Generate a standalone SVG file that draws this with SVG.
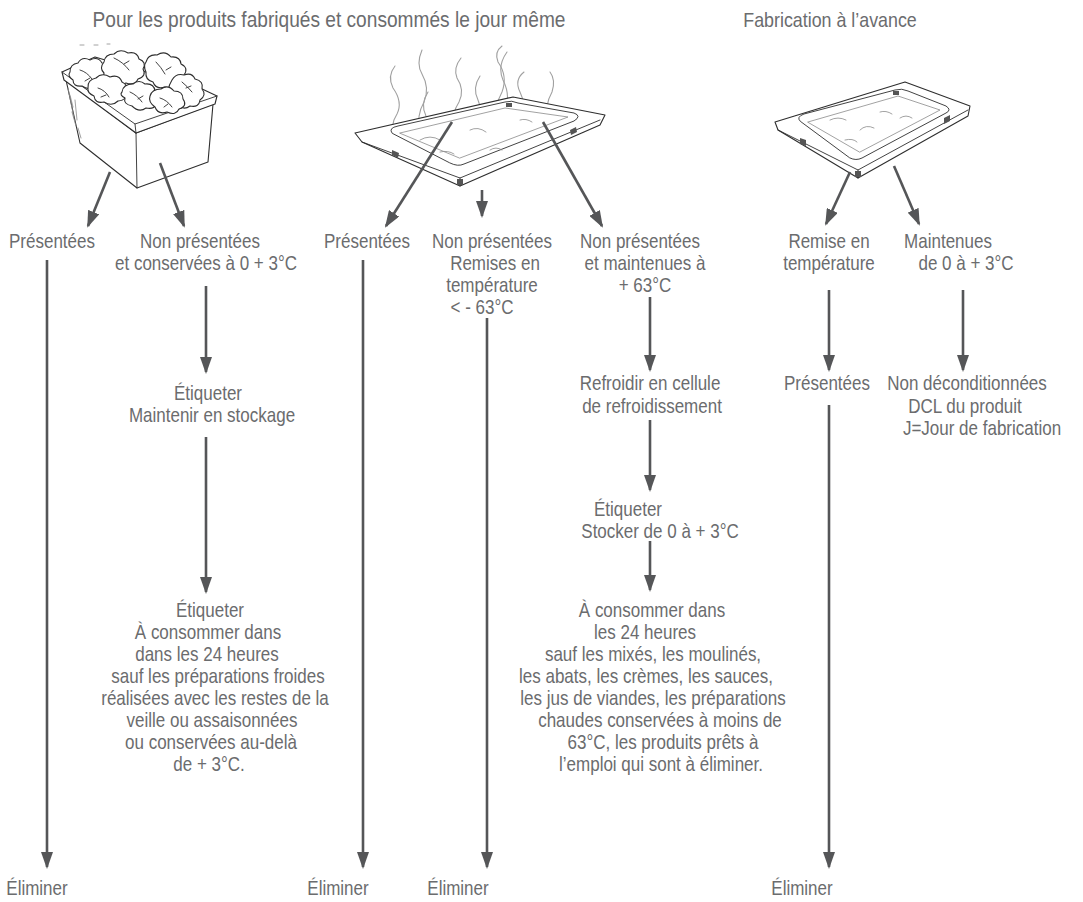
<svg xmlns="http://www.w3.org/2000/svg" width="1083" height="902" viewBox="0 0 1083 902">
  <style>
    .t { font-family: 'Liberation Sans', Arial, sans-serif; font-size: 20px; fill: #6b6c6e; text-anchor: middle; }
    .h { font-size: 22.5px; }
    .c { fill: none; stroke: #555658; stroke-width: 2.6; }
    .ink { fill: #fff; stroke: #2e2e2e; stroke-width: 1.1; stroke-linejoin: round; stroke-linecap: round; }
    .ln { fill: none; stroke: #2e2e2e; stroke-width: 0.9; stroke-linecap: round; }
    .lt { fill: none; stroke: #8a8a8a; stroke-width: 0.8; stroke-linecap: round; }
    .steam { fill: none; stroke: #a0a0a0; stroke-width: 1.1; stroke-linecap: round; }
  </style>
  <defs>
    <marker id="ah" viewBox="0 0 17 12" refX="15" refY="6" markerWidth="17" markerHeight="12" markerUnits="userSpaceOnUse" orient="auto">
      <path d="M0,0 L17,6 L0,12 z" fill="#555658"/>
    </marker>
  </defs>
  <rect width="1083" height="902" fill="#fff"/>

  <!-- headings (condensed look: sans squeezed horizontally) -->
  <g id="heading-same-day"><text class="t h" transform="translate(329,27) scale(.85,1)">Pour les produits fabriqués et consommés le jour même</text></g>
  <g id="heading-advance"><text class="t" transform="translate(830,27) scale(.85,1)" style="font-size:21px">Fabrication à l’avance</text></g>

  <!-- salad container -->
  <g id="salad-box">
    <path class="lt" d="M80,45 h4 M94,45 h4 M107,44 h3"/>
    <path class="ink" d="M66,80 L80,143 L137,188 L208,162 L213,104 L136,133 Z"/>
    <path class="ln" d="M136,133 L137,188"/>
    <path class="lt" d="M70,95 l3,12 M72,112 l4,14 M75,100 l2,20 M78,128 l3,10 M68,88 l6,30"/>
    <path class="ink" d="M62,72 L95,57 L200,88 L217,96 L215,104 L136,133 L64,80 Z"/>
    <path class="ln" d="M62,72 L135,124 L217,96 M135,124 L136,133"/>
    <!-- leaves -->
    <path class="ink" d="M70,72 q0,-8 8,-9 q4,-7 12,-3 q8,-4 12,3 q9,0 7,8 q5,6 -3,10 q-2,7 -11,5 q-6,5 -13,0 q-9,1 -9,-6 q-6,-4 -3,-8 z"/>
    <path class="ink" d="M104,62 q1,-8 10,-8 q6,-6 14,-1 q9,-2 11,6 q8,3 4,10 q4,7 -5,10 q-3,7 -12,4 q-8,4 -14,-2 q-10,0 -8,-8 q-5,-5 0,-11 z"/>
    <path class="ink" d="M146,62 q2,-8 11,-7 q8,-5 14,2 q9,-1 10,7 q8,4 3,11 q2,8 -7,9 q-4,6 -12,3 q-9,3 -12,-5 q-8,-2 -7,-10 q-3,-6 0,-10 z"/>
    <path class="ink" d="M172,80 q4,-7 12,-5 q8,-3 11,4 q9,2 7,10 q5,6 -2,11 q-1,8 -10,6 q-7,5 -12,-2 q-9,0 -8,-8 q-4,-6 2,-16 z"/>
    <path class="ink" d="M88,88 q-1,-8 8,-10 q6,-6 14,-1 q9,-3 12,5 q7,3 3,10 q3,8 -7,9 q-6,6 -14,1 q-9,2 -10,-6 q-7,-3 -6,-8 z"/>
    <path class="ink" d="M122,92 q1,-8 11,-8 q6,-5 12,0 q9,-1 10,7 q7,5 1,11 q0,8 -10,6 q-7,5 -14,-2 q-9,-2 -7,-8 q-6,-3 -3,-6 z"/>
    <path class="ink" d="M150,96 q2,-7 11,-7 q7,-5 13,2 q9,0 9,8 q5,7 -4,10 q-3,7 -12,3 q-9,3 -12,-5 q-7,-5 -5,-11 z"/>
    <path class="ln" d="M80,70 q7,2 12,9 M114,58 q9,4 15,12 M156,62 q5,5 9,12 M182,82 q5,4 10,10 M98,88 q7,2 11,9 M130,92 q7,3 12,10 M160,98 q7,2 12,9"/>
    <path class="ln" d="M90,78 l-5,3 M124,64 l5,-3 M166,70 l5,-3 M186,88 l5,-2 M106,95 l-5,2 M138,99 l5,-3 M168,104 l-4,3"/>
  </g>

  <!-- hot tray with steam -->
  <g id="hot-tray">
    <path class="steam" d="M395,140 q-6,-14 2,-26 q6,-12 -4,-26 q-6,-12 2,-22"/>
    <path class="steam" d="M420,132 q-4,-16 4,-30 q6,-14 -2,-28 q-6,-10 0,-24"/>
    <path class="steam" d="M428,140 q4,-14 -2,-24 q-6,-12 2,-24"/>
    <path class="steam" d="M455,128 q-4,-14 4,-26 q6,-12 -2,-24 q-4,-10 4,-20"/>
    <path class="steam" d="M480,130 q4,-16 -2,-30 q-6,-12 2,-24"/>
    <path class="steam" d="M498,122 q-4,-16 4,-30 q6,-16 -4,-30 q-4,-10 4,-16"/>
    <path class="steam" d="M505,110 q6,-14 -2,-30 q-6,-14 4,-28"/>
    <path class="steam" d="M522,118 q4,-14 -2,-26 q-6,-12 4,-20"/>
    <path class="steam" d="M548,122 q-4,-16 4,-30 q4,-12 -2,-20"/>
    <path class="ink" d="M355,133 L513,97 L605,115 L600,125 L460,186 L362,142 Z"/>
    <path class="ln" d="M362,142 L460,178 L600,120 M460,178 L460,186"/>
    <path class="ln" d="M392,133 Q388,128 398,126 L505,102 Q512,100 518,103 L574,113 Q582,116 574,121 L464,164 Q458,167 450,163 Z"/>
    <path class="lt" d="M400,133 L505,108 L568,117 L460,158 Z"/>
    <path d="M392,150 l7,3 l-1,5 l-6,-3 z M570,130 l6,-3 l1,5 l-6,3 z M506,103 l6,0 l0,4 l-6,0 z M457,179 l6,0 l0,6 l-6,0 z" fill="#555"/>
    <path class="lt" d="M420,140 q10,-6 20,0 M470,130 q8,-4 16,2 M490,150 q6,-4 12,0 M440,152 q8,-2 14,2 M520,120 q6,-2 12,2"/>
  </g>

  <!-- tray made in advance -->
  <g id="cold-tray">
    <path class="ink" d="M775,122 L905,82 L970,106 L968,116 L858,178 L778,130 Z"/>
    <path class="ln" d="M778,130 L858,170 L968,110 M858,170 L858,178"/>
    <path class="ln" d="M800,121 Q796,117 804,114 L895,90 Q902,88 908,91 L946,106 Q952,110 946,113 L862,158 Q856,161 850,158 Z"/>
    <path class="lt" d="M808,122 L898,96 L940,110 L860,152 Z"/>
    <path d="M800,138 l6,2 l0,6 l-6,-2 z M944,118 l6,-3 l0,6 l-6,3 z M893,91 l6,0 l0,4 l-6,0 z M855,171 l6,0 l0,6 l-6,0 z" fill="#555"/>
    <path class="lt" d="M830,120 q8,-4 16,0 M860,130 q6,-6 14,-2 M880,112 q6,-2 12,2 M845,140 q8,-2 12,2 M900,118 q6,-4 12,0"/>
  </g>

  <!-- text nodes -->
  <g id="a-presentees"><text class="t" transform="translate(52,248) scale(.85,1)">Présentées</text></g>
  <g id="a-non-presentees"><text class="t" transform="translate(200,248) scale(.85,1)">Non présentées</text><text class="t" transform="translate(206,270) scale(.85,1)">et conservées à 0 + 3°C</text></g>
  <g id="a-etiqueter"><text class="t" transform="translate(208,400) scale(.85,1)">Étiqueter</text><text class="t" transform="translate(212,422) scale(.85,1)">Maintenir en stockage</text></g>
  <g id="a-consommer">
    <text class="t" transform="translate(210,617) scale(.85,1)">Étiqueter</text>
    <text class="t" transform="translate(208,639) scale(.85,1)">À consommer dans</text>
    <text class="t" transform="translate(207,661) scale(.85,1)">dans les 24 heures</text>
    <text class="t" transform="translate(218,683) scale(.85,1)">sauf les préparations froides</text>
    <text class="t" transform="translate(215,705) scale(.85,1)">réalisées avec les restes de la</text>
    <text class="t" transform="translate(212,727) scale(.85,1)">veille ou assaisonnées</text>
    <text class="t" transform="translate(211,749) scale(.85,1)">ou conservées au-delà</text>
    <text class="t" transform="translate(209,771) scale(.85,1)">de + 3°C.</text>
  </g>
  <g id="a-eliminer"><text class="t" transform="translate(37,895) scale(.85,1)">Éliminer</text></g>

  <g id="b-presentees"><text class="t" transform="translate(367,248) scale(.85,1)">Présentées</text></g>
  <g id="b-eliminer-1"><text class="t" transform="translate(338,895) scale(.85,1)">Éliminer</text></g>
  <g id="b-remises"><text class="t" transform="translate(492,248) scale(.85,1)">Non présentées</text><text class="t" transform="translate(495,270) scale(.85,1)">Remises en</text><text class="t" transform="translate(492,292) scale(.85,1)">température</text><text class="t" transform="translate(482,314) scale(.85,1)">&lt; - 63°C</text></g>
  <g id="b-eliminer-2"><text class="t" transform="translate(458,895) scale(.85,1)">Éliminer</text></g>
  <g id="b-maintenues"><text class="t" transform="translate(640,248) scale(.85,1)">Non présentées</text><text class="t" transform="translate(645,270) scale(.85,1)">et maintenues à</text><text class="t" transform="translate(645,292) scale(.85,1)">+ 63°C</text></g>
  <g id="b-refroidir"><text class="t" transform="translate(650,390) scale(.85,1)">Refroidir en cellule</text><text class="t" transform="translate(652,413) scale(.85,1)">de refroidissement</text></g>
  <g id="b-stocker"><text class="t" transform="translate(628,516) scale(.85,1)">Étiqueter</text><text class="t" transform="translate(660,538) scale(.85,1)">Stocker de 0 à + 3°C</text></g>
  <g id="b-consommer">
    <text class="t" transform="translate(652,617) scale(.85,1)">À consommer dans</text>
    <text class="t" transform="translate(645,639) scale(.85,1)">les 24 heures</text>
    <text class="t" transform="translate(653,661) scale(.85,1)">sauf les mixés, les moulinés,</text>
    <text class="t" transform="translate(646,683) scale(.85,1)">les abats, les crèmes, les sauces,</text>
    <text class="t" transform="translate(653,705) scale(.85,1)">les jus de viandes, les préparations</text>
    <text class="t" transform="translate(660,727) scale(.85,1)">chaudes conservées à moins de</text>
    <text class="t" transform="translate(663,749) scale(.85,1)">63°C, les produits prêts à</text>
    <text class="t" transform="translate(661,771) scale(.85,1)">l’emploi qui sont à éliminer.</text>
  </g>

  <g id="c-remise"><text class="t" transform="translate(829,248) scale(.85,1)">Remise en</text><text class="t" transform="translate(829,270) scale(.85,1)">température</text></g>
  <g id="c-presentees"><text class="t" transform="translate(827,390) scale(.85,1)">Présentées</text></g>
  <g id="c-eliminer"><text class="t" transform="translate(802,895) scale(.85,1)">Éliminer</text></g>
  <g id="c-maintenues"><text class="t" transform="translate(948,248) scale(.85,1)">Maintenues</text><text class="t" transform="translate(966,270) scale(.85,1)">de 0 à + 3°C</text></g>
  <g id="c-non-deconditionnees"><text class="t" transform="translate(967,390) scale(.85,1)">Non déconditionnées</text><text class="t" transform="translate(965,413) scale(.85,1)">DCL du produit</text><text class="t" transform="translate(982,435) scale(.85,1)">J=Jour de fabrication</text></g>

  <!-- connectors -->
  <g id="connectors" class="c" marker-end="url(#ah)">
    <line x1="110" y1="172" x2="88" y2="226"/>
    <line x1="160" y1="163" x2="184" y2="226"/>
    <line x1="47" y1="260" x2="47" y2="867"/>
    <line x1="206" y1="286" x2="206" y2="372"/>
    <line x1="206" y1="437" x2="206" y2="592"/>

    <line x1="452" y1="122" x2="386" y2="226"/>
    <line x1="482" y1="190" x2="482" y2="216"/>
    <line x1="543" y1="122" x2="602" y2="226"/>
    <line x1="363" y1="260" x2="363" y2="867"/>
    <line x1="487" y1="318" x2="487" y2="867"/>
    <line x1="650" y1="297" x2="650" y2="370"/>
    <line x1="650" y1="420" x2="650" y2="490"/>
    <line x1="650" y1="541" x2="650" y2="590"/>

    <line x1="850" y1="172" x2="826" y2="224"/>
    <line x1="894" y1="166" x2="919" y2="224"/>
    <line x1="829" y1="290" x2="829" y2="370"/>
    <line x1="829" y1="405" x2="829" y2="867"/>
    <line x1="963" y1="290" x2="963" y2="370"/>
  </g>
</svg>
